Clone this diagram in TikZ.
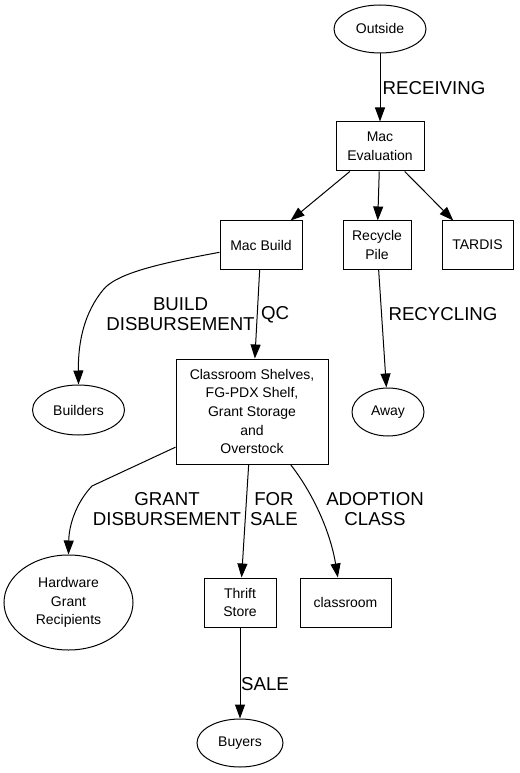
\documentclass[tikz,border=0pt]{standalone}
\usepackage{fontspec}
\setmainfont{Liberation Sans}
\usetikzlibrary{arrows.meta, shapes.geometric}

\newcommand{\nodetext}{\fontsize{10.5}{14}\selectfont}
\newcommand{\edgetext}{\fontsize{14}{15}\selectfont}

\begin{document}
\begin{tikzpicture}[x=0.75pt, y=-0.75pt, line width=0.75pt,
		dims/.style 2 args={minimum width=#1*0.75pt, minimum height=#2*0.75pt},
		place/.style={ellipse, draw, inner sep=0pt, align=center, font=\nodetext},
		stage/.style={rectangle, draw, inner sep=0pt, align=center, font=\nodetext},
		edge/.style={-{Triangle[length=10.5pt, width=7.5pt]}},
		lbl/.style={align=center, font=\edgetext, inner sep=0pt}]
	\useasboundingbox (0, 0) rectangle (519, 773);

	% nodes
	\node[place, dims={92}{48}] (outside) at (380, 29) {Outside};
	\node[stage, dims={88}{49}] (evaluation) at (380, 146.5) {Mac\\Evaluation};
	\node[stage, dims={82}{48}] (build) at (261, 245) {Mac Build};
	\node[stage, dims={68}{48}] (recycle) at (377, 245) {Recycle\\Pile};
	\node[stage, dims={71}{48}] (tardis) at (477.5, 245) {TARDIS};
	\node[place, dims={92}{50}] (builders) at (78.5, 410) {Builders};
	\node[stage, dims={152}{105}] (shelves) at (252, 411.5)
		{Classroom Shelves,\\FG-PDX Shelf,\\Grant Storage\\and\\Overstock};
	\node[place, dims={72}{48}] (away) at (388, 412) {Away};
	\node[place, dims={129}{95}] (grant) at (68.5, 602.5) {Hardware\\Grant\\Recipients};
	\node[stage, dims={72}{49}] (thrift) at (240, 602.5) {Thrift\\Store};
	\node[stage, dims={91}{49}] (classroom) at (345.5, 602.5) {classroom};
	\node[place, dims={86}{48}] (buyers) at (240, 743) {Buyers};

	% edges
	\draw[edge] (outside) -- (evaluation);
	\draw[edge] (evaluation) -- (build);
	\draw[edge] (evaluation) -- (recycle);
	\draw[edge] (evaluation) -- (tardis);
	\draw[edge] (build.190) .. controls (150, 265) and (115, 275) .. (103, 290)
		.. controls (85, 312) and (78, 340) .. (builders.north);
	\draw[edge] (build) -- (shelves);
	\draw[edge] (recycle) -- (away);
	\draw[edge] (shelves.205) -- (92, 486) .. controls (76, 503) and (69, 525) .. (grant.north);
	\draw[edge] (shelves) -- (thrift);
	\draw[edge] (shelves.306) .. controls (312, 492) and (330, 530) .. (classroom.107);
	\draw[edge] (thrift) -- (buyers);

	% edge labels
	\node[lbl] (receiving) at (434, 88) {RECEIVING};
	\node[lbl] (builddisb) at (180.5, 314) {BUILD\\DISBURSEMENT};
	\node[lbl] (qc) at (275, 315) {QC};
	\node[lbl] (recycling) at (443, 314) {RECYCLING};
	\node[lbl] (grantdisb) at (167, 509) {GRANT\\DISBURSEMENT};
	\node[lbl] (forsale) at (274, 509) {FOR\\SALE};
	\node[lbl] (adoption) at (375, 509) {ADOPTION\\CLASS};
	\node[lbl] (sale) at (265, 684) {SALE};
\end{tikzpicture}
\end{document}
